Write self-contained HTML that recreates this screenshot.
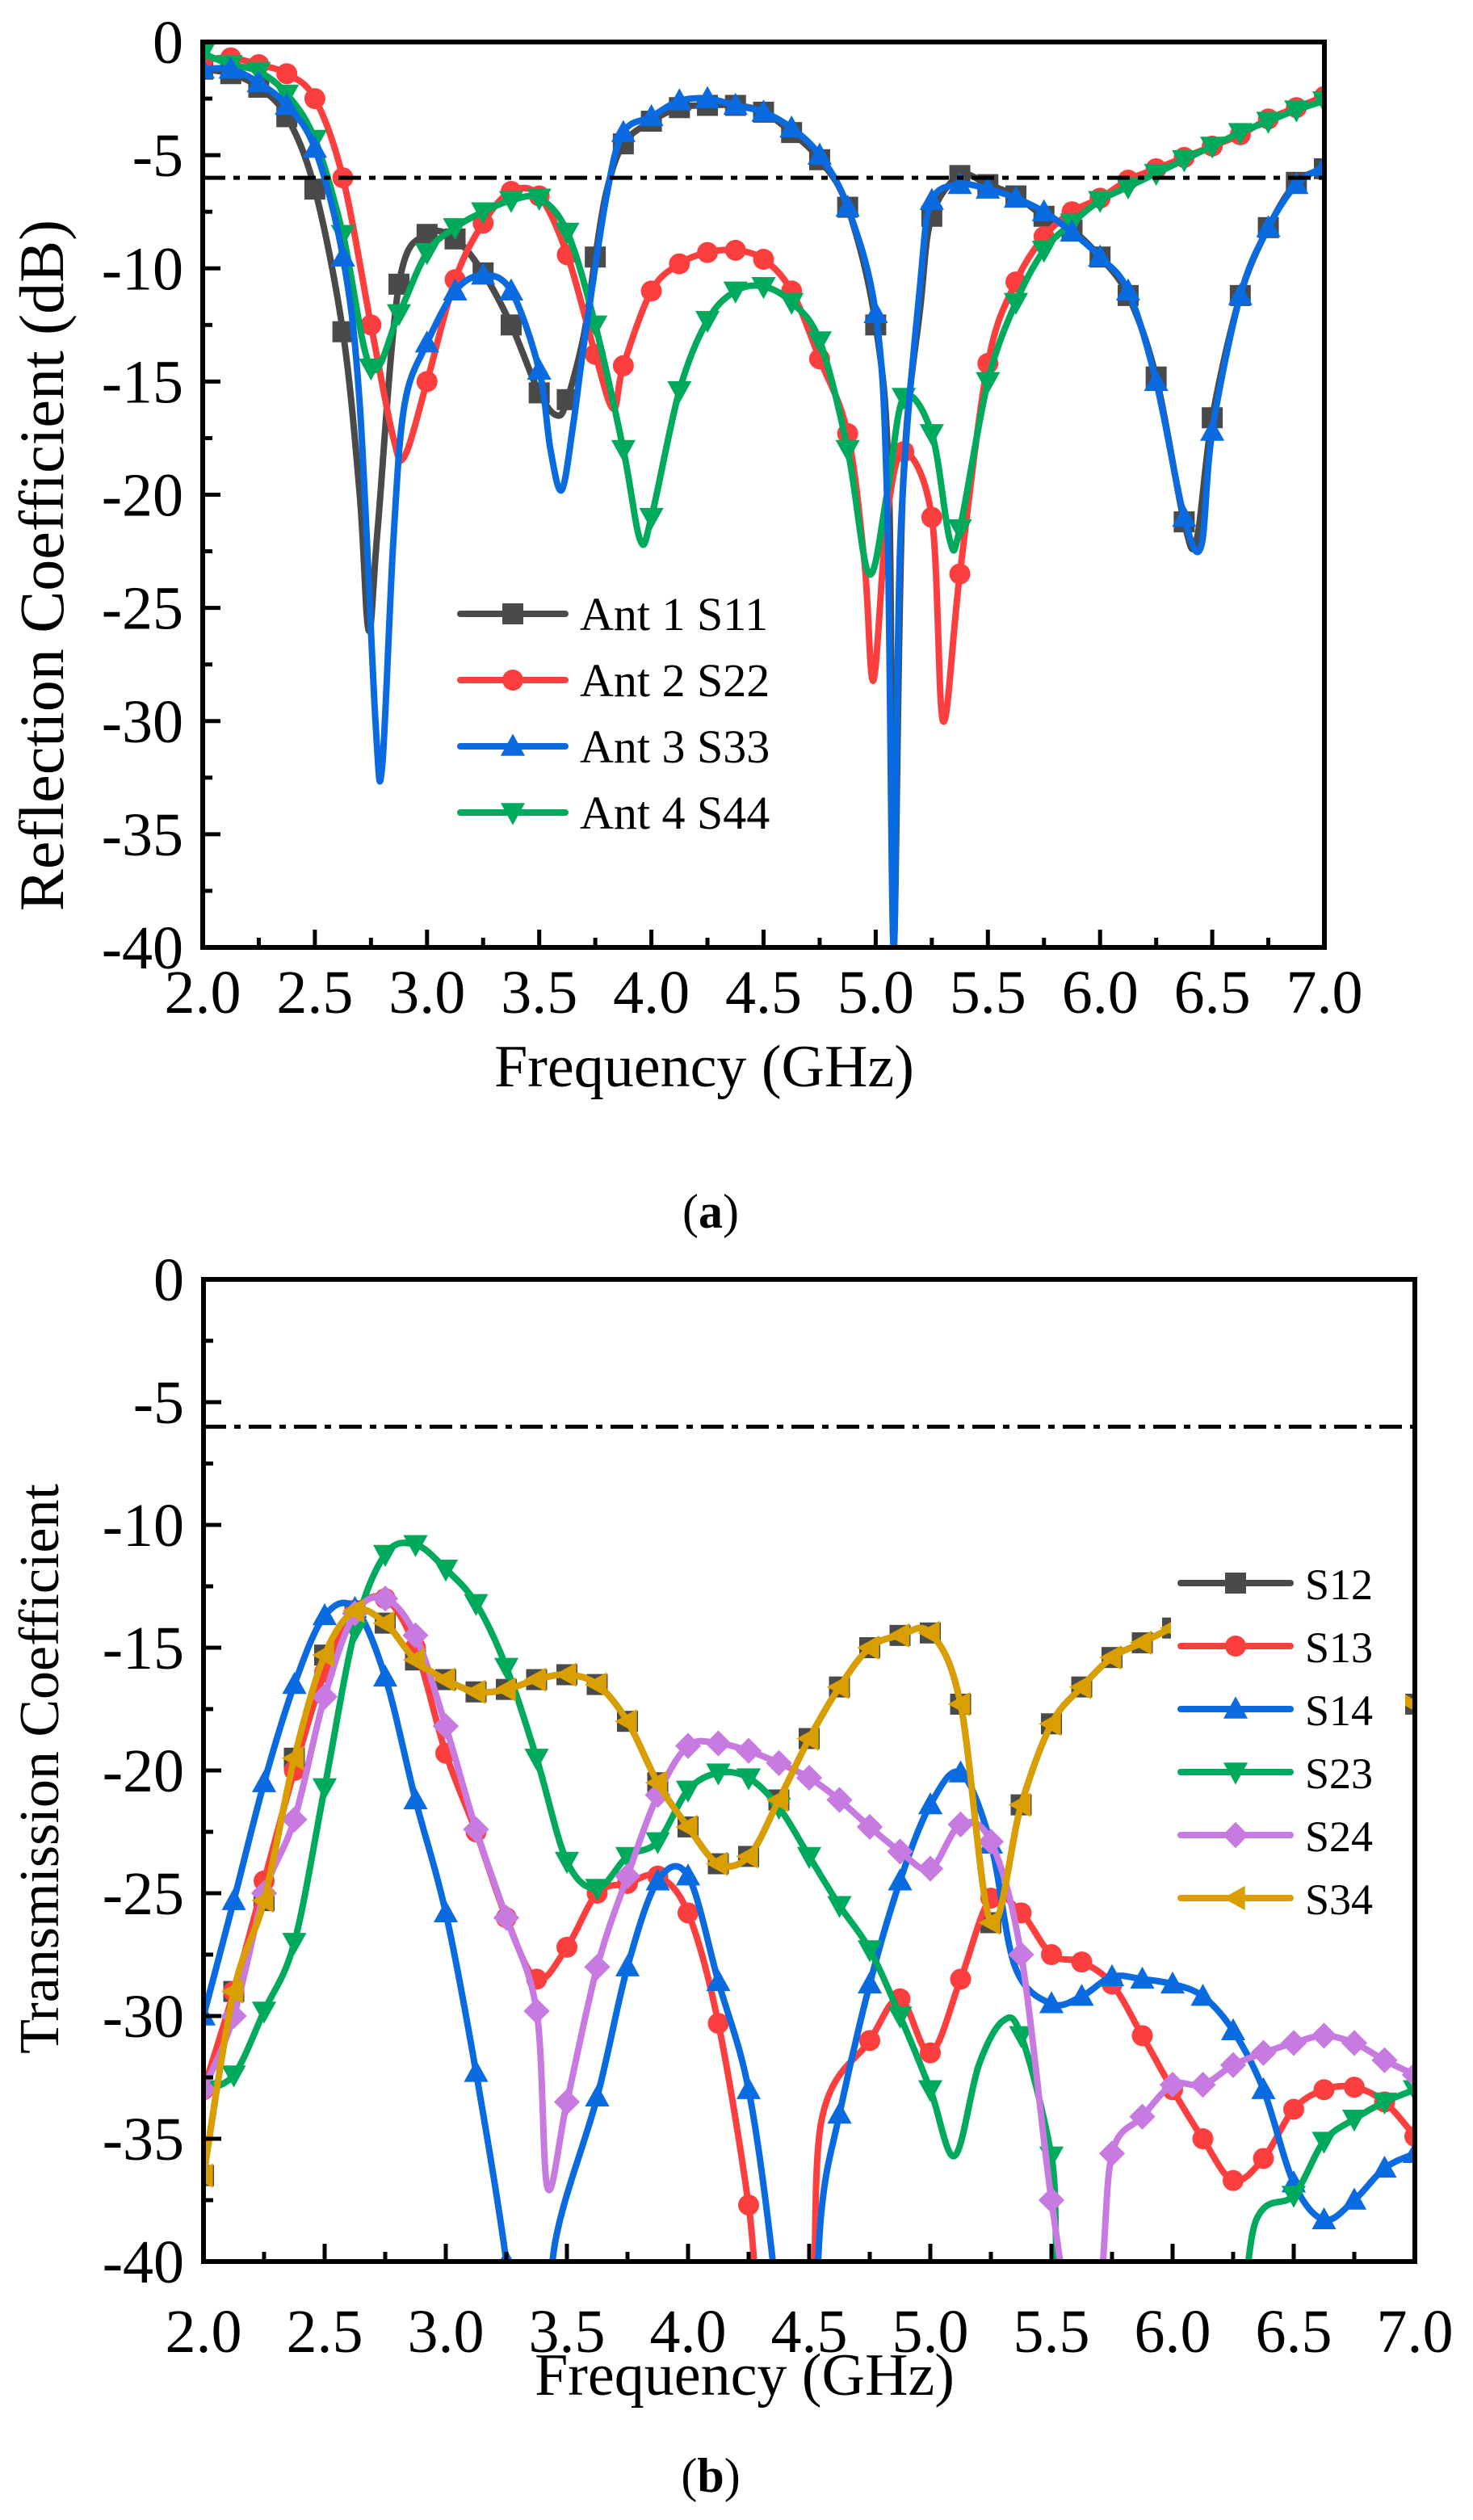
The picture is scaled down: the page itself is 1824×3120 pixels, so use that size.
<!DOCTYPE html>
<html><head><meta charset="utf-8">
<style>
html,body{margin:0;padding:0;background:#fff;}
svg{display:block;font-family:"Liberation Serif",serif;}
</style></head>
<body>
<svg id="fig" width="1824" height="3120" viewBox="0 0 1824 3120">
<g id="plotA"></g>
<g id="plotB"></g>
<text x="880" y="1520" font-size="60" text-anchor="middle">(<tspan font-weight="bold">a</tspan>)</text>
<text x="880" y="3085" font-size="60" text-anchor="middle">(<tspan font-weight="bold">b</tspan>)</text>
</svg>
<script>
// ---------- Data: chart (a) ----------
const xTicksA = [2.0,2.5,3.0,3.5,4.0,4.5,5.0,5.5,6.0,6.5,7.0];
const yTicksA = [0,-5,-10,-15,-20,-25,-30,-35,-40];
const s11F = [2.0,2.125,2.25,2.375,2.5,2.625,2.7,2.74,2.78,2.875,3.0,3.125,3.25,3.375,3.5,3.58,3.625,3.7,3.75,3.8,3.875,4.0,4.125,4.25,4.375,4.5,4.625,4.75,4.875,5.0,5.06,5.08,5.12,5.2,5.25,5.375,5.5,5.625,5.75,5.875,6.0,6.125,6.25,6.375,6.43,6.5,6.625,6.75,6.875,7.0];
const s11V = [-1.2,-1.4,-2,-3.3,-6.5,-12.8,-20,-26,-21.5,-10.7,-8.5,-8.7,-10.2,-12.5,-15.5,-16.5,-15.8,-12.9,-9.5,-6.6,-4.5,-3.5,-2.9,-2.8,-2.8,-3.1,-4,-5.2,-7.3,-12.5,-20,-40,-20,-11.6,-7.7,-5.9,-6.3,-6.8,-7.7,-8.3,-9.5,-11.2,-14.8,-21.2,-22,-16.6,-11.2,-8.2,-6.2,-5.6];
const s22F = [2.0,2.125,2.25,2.375,2.5,2.625,2.75,2.85,2.9,3.0,3.125,3.25,3.375,3.5,3.625,3.75,3.83,3.875,4.0,4.125,4.25,4.375,4.5,4.625,4.75,4.875,4.95,4.99,5.05,5.125,5.25,5.3,5.375,5.5,5.625,5.75,5.875,6.0,6.125,6.25,6.375,6.5,6.625,6.75,6.875,7.0];
const s22V = [-0.8,-0.7,-1.0,-1.4,-2.5,-6,-12.5,-17.5,-18.3,-15,-10.5,-8,-6.6,-6.8,-9.4,-13.8,-16.2,-14.3,-11,-9.8,-9.3,-9.2,-9.6,-11,-14,-17.3,-23,-28.2,-21,-18.1,-21,-30,-23.5,-14.2,-10.6,-8.6,-7.5,-6.9,-6.1,-5.6,-5.1,-4.6,-4.1,-3.4,-2.9,-2.4];
const s33F = [2.0,2.125,2.25,2.375,2.5,2.625,2.7,2.77,2.8,2.85,2.9,3.0,3.125,3.25,3.375,3.5,3.55,3.6,3.65,3.7,3.8,3.875,4.0,4.125,4.25,4.375,4.5,4.625,4.75,4.875,5.0,5.05,5.08,5.11,5.2,5.25,5.375,5.5,5.625,5.75,5.875,6.0,6.125,6.25,6.375,6.45,6.5,6.625,6.75,6.875,7.0];
const s33V = [-1.2,-1.2,-1.8,-2.8,-4.7,-9.5,-16,-30,-32,-22,-16,-13.3,-11,-10.3,-11,-14.5,-18,-19.8,-17,-13.3,-6.8,-4,-3.3,-2.6,-2.5,-2.8,-3.1,-3.8,-5,-7.3,-12,-20,-40,-22,-10.5,-7,-6.3,-6.5,-6.9,-7.5,-8.4,-9.5,-11,-15,-21,-22.3,-17.2,-11.2,-8.2,-6.3,-5.5];
const s44F = [2.0,2.125,2.25,2.375,2.5,2.625,2.75,2.875,3.0,3.125,3.25,3.375,3.5,3.625,3.75,3.875,3.95,4.0,4.125,4.25,4.375,4.5,4.625,4.75,4.875,4.97,5.05,5.125,5.25,5.33,5.375,5.5,5.625,5.75,5.875,6.0,6.125,6.25,6.375,6.5,6.625,6.75,6.875,7.0];
const s44V = [-0.5,-1.0,-1.3,-2.3,-4.3,-8.5,-14.4,-12,-9.3,-8.2,-7.5,-7,-6.9,-8.4,-12.5,-18,-22,-21,-15.4,-12.3,-11,-10.8,-11.5,-13.2,-18,-23.5,-20,-15.7,-17.3,-22,-21.5,-15,-11.5,-9.2,-8,-7,-6.4,-5.8,-5.2,-4.6,-4,-3.5,-3,-2.6];
const seriesNamesA = ["Ant 1 S11","Ant 2 S22","Ant 3 S33","Ant 4 S44"];

// ---------- Data: chart (b) ----------
const xTicksB = [2.0,2.5,3.0,3.5,4.0,4.5,5.0,5.5,6.0,6.5,7.0];
const yTicksB = [0,-5,-10,-15,-20,-25,-30,-35,-40];
const s34F = [2.0,2.125,2.25,2.375,2.5,2.625,2.75,2.875,3.0,3.125,3.25,3.375,3.5,3.625,3.75,3.875,4.0,4.125,4.25,4.375,4.5,4.625,4.75,4.875,5.0,5.125,5.25,5.375,5.5,5.625,5.75,5.875,6.0,6.125,6.25,6.375,6.5,6.625,6.75,6.875,7.0];
const s34V = [-36.5,-29,-25.3,-19.5,-15.3,-13.5,-14,-15.5,-16.3,-16.8,-16.7,-16.3,-16.1,-16.5,-18,-20.5,-22.3,-23.8,-23.5,-21.2,-18.7,-16.6,-15,-14.5,-14.4,-17.3,-26.2,-21.4,-18.1,-16.6,-15.4,-14.8,-14.2,-13.9,-13.7,-13.6,-13.8,-14.5,-15.5,-16.5,-17.3];
const s12V = [-36.5,-29,-25.3,-19.5,-15.3,-13.5,-14,-15.5,-16.3,-16.8,-16.7,-16.3,-16.1,-16.5,-18,-20.5,-22.3,-23.8,-23.5,-21.2,-18.7,-16.6,-15,-14.5,-14.4,-17.3,-26.2,-21.4,-18.1,-16.6,-15.4,-14.8,-14.2,-13.9,-13.7,-13.6,-13.8,-14.5,-15.5,-16.5,-17.3];
const s13F = [2.0,2.125,2.25,2.375,2.5,2.625,2.75,2.875,3.0,3.125,3.25,3.375,3.5,3.625,3.75,3.875,4.0,4.125,4.25,4.32,4.5,4.55,4.75,4.875,5.0,5.125,5.25,5.375,5.5,5.625,5.75,5.875,6.0,6.125,6.25,6.375,6.5,6.625,6.75,6.875,7.0];
const s13V = [-33,-29,-24.5,-20,-16,-13.5,-13,-15,-19.3,-22.5,-26,-28.5,-27.2,-25,-24.6,-24.3,-25.8,-30.3,-37.7,-44,-44,-34.3,-31,-29.3,-31.5,-28.5,-25.2,-25.8,-27.5,-27.8,-28.7,-30.8,-33,-35,-36.7,-35.8,-33.8,-33,-32.9,-33.5,-34.9];
const s14F = [2.0,2.125,2.25,2.375,2.5,2.625,2.75,2.875,3.0,3.125,3.25,3.3,3.42,3.45,3.625,3.75,3.875,4.0,4.125,4.25,4.35,4.4,4.5,4.55,4.625,4.75,4.875,5.0,5.125,5.25,5.35,5.5,5.625,5.75,5.875,6.0,6.125,6.25,6.375,6.5,6.625,6.75,6.875,7.0];
const s14V = [-30,-25.3,-20.5,-16.5,-13.7,-13.4,-16.2,-21.2,-25.8,-32.3,-40,-45,-45,-39.3,-33.3,-28,-24.5,-24.3,-28.6,-33,-40,-46,-46,-38,-34,-28.7,-24.5,-21.4,-20.1,-23,-28,-29.5,-29.2,-28.4,-28.5,-28.7,-29.2,-30.6,-33,-36.8,-38.3,-37.5,-36.2,-35.6];
const s23F = [2.0,2.125,2.25,2.375,2.5,2.625,2.75,2.875,3.0,3.125,3.25,3.375,3.5,3.625,3.75,3.875,4.0,4.125,4.25,4.375,4.5,4.625,4.75,4.875,5.0,5.1,5.2,5.3,5.375,5.5,5.6,6.2,6.35,6.5,6.625,6.75,6.875,7.0];
const s23V = [-33,-32.4,-29.8,-27,-20.7,-14.3,-11.2,-10.8,-11.8,-13.2,-15.8,-19.5,-23.7,-24.8,-23.5,-22.9,-20.8,-20.1,-20.3,-21.5,-23.5,-25.5,-27.3,-30,-33,-35.7,-32,-30.2,-30.8,-35.7,-43,-43,-38.2,-37.3,-35.1,-34.2,-33.5,-33];
const s24F = [2.0,2.125,2.25,2.375,2.5,2.625,2.75,2.875,3.0,3.125,3.25,3.375,3.42,3.5,3.625,3.75,3.875,4.0,4.125,4.25,4.375,4.5,4.625,4.75,4.875,5.0,5.125,5.25,5.375,5.5,5.6,5.7,5.75,5.875,6.0,6.125,6.25,6.375,6.5,6.625,6.75,6.875,7.0];
const s24V = [-33,-30,-25,-22,-17,-13.6,-13,-14.5,-18.2,-22.4,-26,-29.8,-37,-33.5,-28,-24.3,-21,-19,-18.9,-19.2,-19.7,-20.3,-21.2,-22.3,-23.3,-24,-22.2,-22.9,-27.5,-37.5,-43,-41,-35.6,-34.1,-32.8,-32.8,-32,-31.5,-31.1,-30.8,-31.1,-31.8,-32.4];
const seriesNamesB = ["S12","S13","S14","S23","S24","S34"];
const thresholdDb = -6;

const NS = "http://www.w3.org/2000/svg";
function mk(tag, attrs, parent){ const e=document.createElementNS(NS,tag); for(const k in attrs) e.setAttribute(k,attrs[k]); parent.appendChild(e); return e; }

function makeChart(g, cfg){
  const {x0,x1,y0,y1,id} = cfg;
  const sx = f => x0 + (f-2)/(7-2)*(x1-x0);
  const sy = v => y0 + (0-v)/40*(y1-y0);
  const clip = mk('clipPath',{id:'clip'+id},g);
  mk('rect',{x:x0,y:y0,width:x1-x0,height:y1-y0},clip);
  return {sx,sy};
}

function smoothPath(pts){
  let d = `M${pts[0][0]},${pts[0][1]}`;
  for(let i=0;i<pts.length-1;i++){
    const p0=pts[Math.max(0,i-1)], p1=pts[i], p2=pts[i+1], p3=pts[Math.min(pts.length-1,i+2)];
    const c1=[p1[0]+(p2[0]-p0[0])/6, p1[1]+(p2[1]-p0[1])/6];
    const c2=[p2[0]-(p3[0]-p1[0])/6, p2[1]-(p3[1]-p1[1])/6];
    d+=` C${c1[0]},${c1[1]} ${c2[0]},${c2[1]} ${p2[0]},${p2[1]}`;
  }
  return d;
}

function marker(parent, shape, x, y, color, s){
  let e;
  if(shape==='square') e=mk('rect',{x:x-s/2,y:y-s/2,width:s,height:s,fill:color},parent);
  else if(shape==='circle') e=mk('circle',{cx:x,cy:y,r:s/2,fill:color},parent);
  else if(shape==='up') e=mk('polygon',{points:`${x},${y-s*0.6} ${x-s*0.58},${y+s*0.45} ${x+s*0.58},${y+s*0.45}`,fill:color},parent);
  else if(shape==='down') e=mk('polygon',{points:`${x},${y+s*0.6} ${x-s*0.58},${y-s*0.45} ${x+s*0.58},${y-s*0.45}`,fill:color},parent);
  else if(shape==='diamond') e=mk('polygon',{points:`${x},${y-s*0.62} ${x+s*0.62},${y} ${x},${y+s*0.62} ${x-s*0.62},${y}`,fill:color},parent);
  else if(shape==='left') e=mk('polygon',{points:`${x-s*0.6},${y} ${x+s*0.45},${y-s*0.58} ${x+s*0.45},${y+s*0.58}`,fill:color},parent);
  return e;
}

function onGrid(f){ const k=f/0.125; return Math.abs(k-Math.round(k))<1e-6; }

function drawSeries(g, ax, F, V, color, shape, name, id){
  const sg = mk('g',{'clip-path':`url(#clip${id})`},g);
  
  
  const pts = F.map((f,i)=>[ax.sx(f), ax.sy(V[i])]);
  const p = mk('path',{d:smoothPath(pts),fill:'none',stroke:color,'stroke-width':8,'stroke-linejoin':'round'},sg);
  
  
  F.forEach((f,i)=>{
    if(!onGrid(f)) return;
    const m = marker(sg, shape, ax.sx(f), ax.sy(V[i]), color, 26);
    
    
  });
}

function drawAxes(g, ax, cfg, xTicks, yTicks, ytitle, xlabBase, xtitleX, xtitleY, ytitleX, ytitleY, ytitleFs){
  const {x0,x1,y0,y1} = cfg;
  const th = mk('line',{x1:x0,x2:x1,y1:ax.sy(thresholdDb),y2:ax.sy(thresholdDb),stroke:'#000','stroke-width':5,'stroke-dasharray':'28 10 8 10'},g);
  
  
  const frame = mk('rect',{x:x0,y:y0,width:x1-x0,height:y1-y0,fill:'none',stroke:'#000','stroke-width':6},g);
  
  
  xTicks.forEach((t,i)=>{
    const x=ax.sx(t);
    mk('line',{x1:x,x2:x,y1:y1,y2:y1-22,stroke:'#000','stroke-width':5},g);
    if(i<xTicks.length-1){ const xm=ax.sx(t+0.25); mk('line',{x1:xm,x2:xm,y1:y1,y2:y1-12,stroke:'#000','stroke-width':5},g); }
    const tx = mk('text',{x:x,y:xlabBase,'font-size':76,'text-anchor':'middle'},g);
    tx.textContent = t.toFixed(1);
    
    
  });
  yTicks.forEach((t,i)=>{
    const y=ax.sy(t);
    mk('line',{x1:x0,x2:x0+22,y1:y,y2:y,stroke:'#000','stroke-width':5},g);
    if(i<yTicks.length-1){ const ym=ax.sy(t-2.5); mk('line',{x1:x0,x2:x0+12,y1:ym,y2:ym,stroke:'#000','stroke-width':5},g); }
    const tx = mk('text',{x:x0-24,y:y+26,'font-size':76,'text-anchor':'end'},g);
    tx.textContent = String(t);
    
    
  });
  const xt = mk('text',{x:xtitleX,y:xtitleY,'font-size':74,'text-anchor':'middle'},g);
  xt.textContent='Frequency (GHz)';
  
  
  const yt = mk('text',{x:0,y:0,'font-size':ytitleFs,'text-anchor':'middle',transform:`translate(${ytitleX},${ytitleY}) rotate(-90)`},g);
  yt.textContent=ytitle;
  
  
}

function legend(g, entries, lx0, lx1, ty, dy, fs, bg){
  const lg = mk('g',{},g);
  
  
  if(bg) mk('rect',bg,lg);
  entries.forEach((e,i)=>{
    const y = ty + i*dy;
    const eg = mk('g',{},lg);
    
    
    mk('line',{x1:lx0,x2:lx1,y1:y,y2:y,stroke:e.c,'stroke-width':8,'stroke-linecap':'round'},eg);
    marker(eg, e.s, (lx0+lx1)/2, y, e.c, 26);
    const t = mk('text',{x:lx1+18,y:y+20,'font-size':fs},eg);
    t.textContent = e.n;
  });
}

// Chart A
const gA = document.getElementById('plotA');
const cfgA = {x0:251,x1:1640,y0:52,y1:1173,id:'A'};
const axA = makeChart(gA, cfgA);
drawSeries(gA, axA, s11F, s11V, '#4a4a4a', 'square', 'series-s11', 'A');
drawSeries(gA, axA, s22F, s22V, '#fb3f3f', 'circle', 'series-s22', 'A');
drawSeries(gA, axA, s44F, s44V, '#00aa5c', 'down', 'series-s44', 'A');
drawSeries(gA, axA, s33F, s33V, '#0a6ae0', 'up', 'series-s33', 'A');
drawAxes(gA, axA, cfgA, xTicksA, yTicksA, 'Reflection Coefficient (dB)', 1254, 872, 1345, 78, 700, 78);
legend(gA, [{n:seriesNamesA[0],c:'#4a4a4a',s:'square'},{n:seriesNamesA[1],c:'#fb3f3f',s:'circle'},{n:seriesNamesA[2],c:'#0a6ae0',s:'up'},{n:seriesNamesA[3],c:'#00aa5c',s:'down'}], 570, 700, 760, 82, 58, null);

// Chart B
const gB = document.getElementById('plotB');
const cfgB = {x0:252,x1:1752,y0:1584,y1:2800,id:'B'};
const axB = makeChart(gB, cfgB);
drawSeries(gB, axB, s34F, s12V, '#4a4a4a', 'square', 'series-s12', 'B');
drawSeries(gB, axB, s13F, s13V, '#fb3f3f', 'circle', 'series-s13', 'B');
drawSeries(gB, axB, s14F, s14V, '#0a6ae0', 'up', 'series-s14', 'B');
drawSeries(gB, axB, s23F, s23V, '#00aa5c', 'down', 'series-s23', 'B');
drawSeries(gB, axB, s24F, s24V, '#c77ae0', 'diamond', 'series-s24', 'B');
drawSeries(gB, axB, s34F, s34V, '#d99e00', 'left', 'series-s34', 'B');
drawAxes(gB, axB, cfgB, xTicksB, yTicksB, 'Transmission Coefficient', 2912, 922, 2965, 72, 2190, 70);
legend(gB, [{n:seriesNamesB[0],c:'#4a4a4a',s:'square'},{n:seriesNamesB[1],c:'#fb3f3f',s:'circle'},{n:seriesNamesB[2],c:'#0a6ae0',s:'up'},{n:seriesNamesB[3],c:'#00aa5c',s:'down'},{n:seriesNamesB[4],c:'#c77ae0',s:'diamond'},{n:seriesNamesB[5],c:'#d99e00',s:'left'}], 1462, 1598, 1960, 78, 54, {x:1450,y:1925,width:290,height:460,fill:'#fff'});
</script>
</body></html>
